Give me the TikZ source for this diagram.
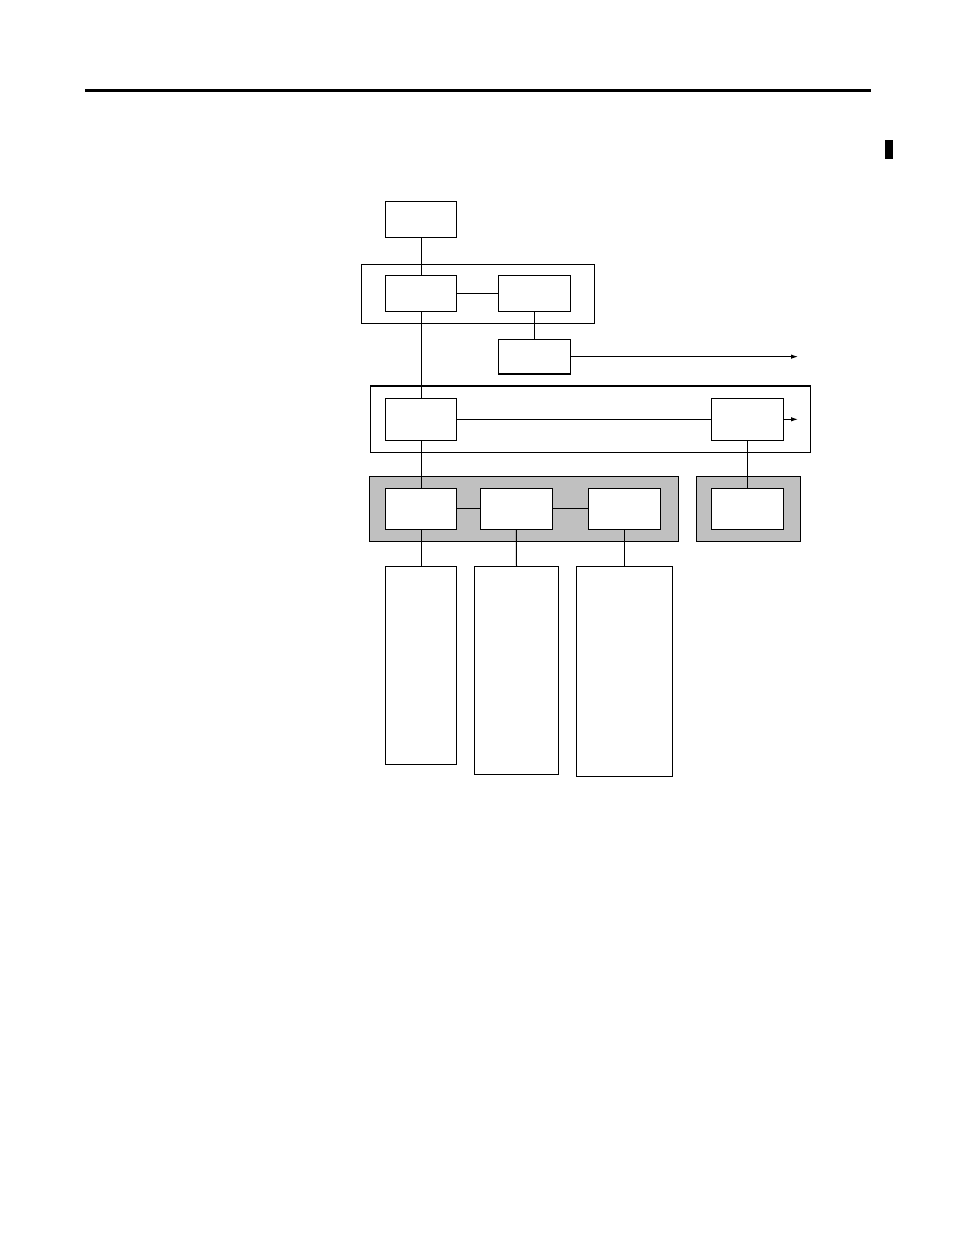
\documentclass[tikz,border=0pt]{standalone}
\usetikzlibrary{arrows.meta}
\definecolor{grayfill}{RGB}{192,192,192}
\begin{document}
\begin{tikzpicture}[x=1pt,y=-1pt,
  blk/.style={draw=black,line width=1.2pt,fill=white,rectangle,inner sep=0pt,outer sep=0pt},
  grp/.style={draw=black,line width=1.1pt,rectangle,inner sep=0pt,outer sep=0pt},
  ggrp/.style={grp,fill=grayfill},
  conn/.style={draw=black,line width=1pt},
  arr/.style={draw=black,line width=1pt,-{Latex[length=7pt,width=4.5pt]}}]
\useasboundingbox (0,0) rectangle (954,1235);
% header rule and margin mark
\fill (85,88.5) rectangle (871,91.5);
\fill (885,140) rectangle (893,159);
% groups
\node[grp,minimum width=233pt,minimum height=58.6pt] (G1) at (477.8,294) {};
\node[grp,minimum width=440pt,minimum height=66.3pt] (G2) at (590.7,419.15) {};
\node[ggrp,minimum width=309pt,minimum height=64.6pt] (G3) at (523.8,509) {};
\node[ggrp,minimum width=103.6pt,minimum height=64.6pt] (G4) at (748.5,509) {};
% boxes
\node[blk,minimum width=71.4pt,minimum height=36pt] (A) at (421,219.3) {};
\node[blk,minimum width=71.4pt,minimum height=36pt] (B) at (421,293.3) {};
\node[blk,minimum width=72pt,minimum height=36pt] (C) at (534.3,293.3) {};
\node[blk,minimum width=72pt,minimum height=34.7pt] (D) at (534.3,356.65) {};
\node[blk,minimum width=71.4pt,minimum height=42pt] (E) at (421,419.3) {};
\node[blk,minimum width=71.6pt,minimum height=42pt] (F) at (747.5,419.3) {};
\node[blk,minimum width=71.4pt,minimum height=41pt] (G) at (421,508.8) {};
\node[blk,minimum width=72pt,minimum height=41pt] (H) at (516.3,508.8) {};
\node[blk,minimum width=72pt,minimum height=41pt] (I) at (624.3,508.8) {};
\node[blk,minimum width=71.6pt,minimum height=41pt] (J) at (747.5,508.8) {};
\node[blk,minimum width=71.4pt,minimum height=198pt] (K) at (421,665.3) {};
\node[blk,minimum width=84.4pt,minimum height=208pt] (L) at (516.5,670.3) {};
\node[blk,minimum width=96pt,minimum height=210pt] (M) at (624.3,671.3) {};
\coordinate (Dt) at (798,356.65);
\coordinate (Ft) at (798,419.3);
% connectors
\draw[conn] (A.south) -- (B.north);
\draw[conn] (B.east) -- (C.west);
\draw[conn] (C.south) -- (D.north);
\draw[arr] (D.east) -- (Dt);
\draw[conn] (B.south) -- (E.north);
\draw[conn] (E.east) -- (F.west);
\draw[arr] (F.east) -- (Ft);
\draw[conn] (E.south) -- (G.north);
\draw[conn] (F.south) -- (J.north);
\draw[conn] (G.east) -- (H.west);
\draw[conn] (H.east) -- (I.west);
\draw[conn] (G.south) -- (K.north);
\draw[conn] (H.south) -- (L.north);
\draw[conn] (I.south) -- (M.north);
\end{tikzpicture}
\end{document}
